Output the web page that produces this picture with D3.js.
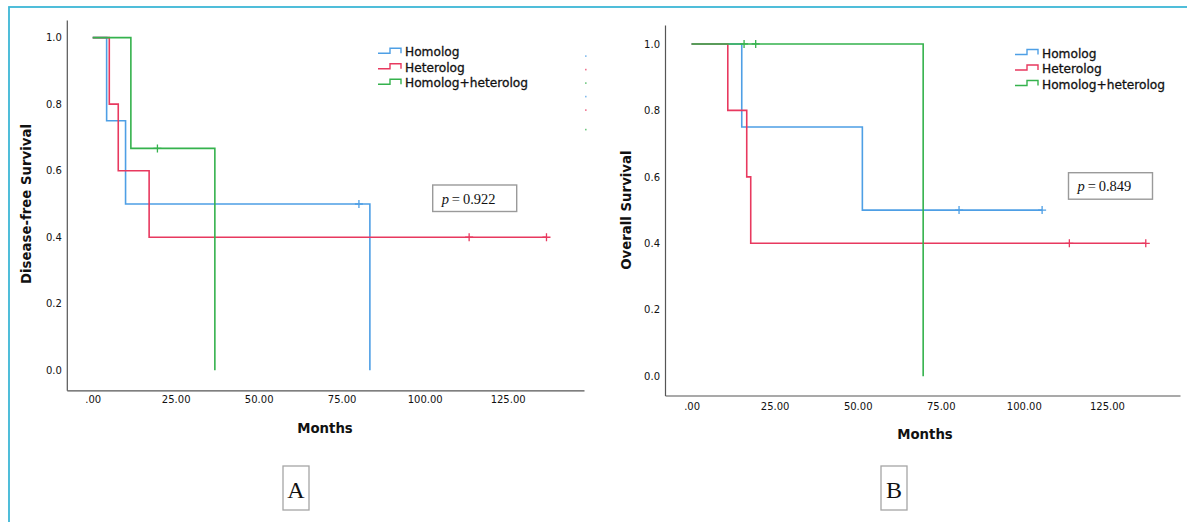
<!DOCTYPE html>
<html>
<head>
<meta charset="utf-8">
<script src="https://cdn.jsdelivr.net/npm/d3@7"></script>
<style>
  body { margin: 0; background: #fff; }
  svg { display: block; font-family: "DejaVu Sans", sans-serif; }
</style>
</head>
<body>
<div id="chart"></div>
<script>
const width = 1187
const height = 522

const monthTicks = [0, 25, 50, 75, 100, 125]
const monthLabels = [".00", "25.00", "50.00", "75.00", "100.00", "125.00"]
const survTicks = [0, 0.2, 0.4, 0.6, 0.8, 1.0]
const groups = ["Homolog", "Heterolog", "Homolog+heterolog"]
const colors = ["#4e9fe5", "#e8395f", "#35b24d"]

// Panel A - disease-free survival (step times, survival after step, censored times)
const dfsHomologTimes = [0, 4.2, 9.9, 83.5]
const dfsHomologSurv = [1, 0.75, 0.5, 0]
const dfsHomologCensored = [80.2]
const dfsHeterologTimes = [0, 5.0, 7.7, 17.0]
const dfsHeterologSurv = [1, 0.8, 0.6, 0.4]
const dfsHeterologCensored = [113.4, 136.7]
const dfsBothTimes = [0, 11.5, 36.8]
const dfsBothSurv = [1, 0.667, 0]
const dfsBothCensored = [19.5]

// Panel B - overall survival
const osHomologTimes = [0, 15.1, 51.4]
const osHomologSurv = [1, 0.75, 0.5]
const osHomologCensored = [80.5, 105.5]
const osHeterologTimes = [0, 10.9, 16.6, 17.8]
const osHeterologSurv = [1, 0.8, 0.6, 0.4]
const osHeterologCensored = [113.7, 136.7]
const osBothTimes = [0, 69.7]
const osBothSurv = [1, 0]
const osBothCensored = [15.8, 19.3]

const svg = d3.select("#chart").append("svg")
    .attr("width", width)
    .attr("height", height)
    .attr("viewBox", [0, 0, width, height])

// cyan frame around the figure
svg.append("rect")
    .attr("x", 9).attr("y", 7)
    .attr("width", 1300).attr("height", 700)
    .attr("fill", "none")
    .attr("stroke", "#3db7d6")
    .attr("stroke-width", 1.8)

function survAt(times, surv, t) {
  let s = surv[0]
  times.forEach((d, i) => { if (d <= t) s = surv[i] })
  return s
}

function panel(cfg) {
  const x = d3.scaleLinear().domain(cfg.xDomain).range(cfg.xRange)
  const y = d3.scaleLinear().domain(cfg.yDomain).range(cfg.yRange)
  const g = svg.append("g")

  const xAxis = g.append("g")
      .attr("transform", `translate(0,${cfg.yRange[0]})`)
      .call(d3.axisBottom(x).tickValues(monthTicks)
        .tickFormat((d, i) => monthLabels[i]).tickSize(0).tickPadding(cfg.xPad))
  const yAxis = g.append("g")
      .attr("transform", `translate(${cfg.xRange[0]},0)`)
      .call(d3.axisLeft(y).tickValues(survTicks)
        .tickFormat(d3.format(".1f")).tickSize(0).tickPadding(5))

  ;[xAxis, yAxis].forEach(a => {
    a.attr("font-family", "DejaVu Sans, sans-serif").attr("font-size", 10)
    a.select(".domain").attr("stroke", "#555").attr("stroke-width", 1.2)
    a.selectAll("text").attr("fill", "#111")
  })

  g.append("text")
      .attr("x", cfg.titleX).attr("y", cfg.titleY)
      .attr("text-anchor", "middle")
      .attr("font-weight", "bold").attr("font-size", 13.3)
      .attr("fill", "#111")
      .text("Months")

  g.append("text")
      .attr("transform", `translate(${cfg.yLabelX},${(y(0) + y(1)) / 2}) rotate(-90)`)
      .attr("text-anchor", "middle")
      .attr("font-weight", "bold").attr("font-size", 13.3)
      .attr("fill", "#111")
      .text(cfg.yLabel)

  const line = d3.line()
      .x(d => x(d[0]))
      .y(d => y(d[1]))
      .curve(d3.curveStepAfter)

  cfg.series.forEach((s, i) => {
    const pts = s.times.map((t, k) => [t, s.surv[k]])
    const last = s.surv[s.surv.length - 1]
    if (last > 0) pts.push([d3.max(s.censored), last])
    g.append("path")
        .datum(pts)
        .attr("fill", "none")
        .attr("stroke", colors[i])
        .attr("stroke-width", 1.6)
        .attr("d", line)
    g.selectAll(null)
      .data(s.censored)
      .join("path")
        .attr("fill", "none")
        .attr("stroke", colors[i])
        .attr("stroke-width", 1.3)
        .attr("d", c => {
          const cx = x(c), cy = y(survAt(s.times, s.surv, c))
          return `M${cx},${cy - 4}V${cy + 4}M${cx - 4},${cy}H${cx + 4}`
        })
  })

  // legend
  const lg = g.append("g").attr("transform", `translate(${cfg.legendX},${cfg.legendY})`)
  groups.forEach((name, i) => {
    const ly = i * 15.5
    lg.append("path")
        .attr("fill", "none")
        .attr("stroke", colors[i])
        .attr("stroke-width", 1.4)
        .attr("d", `M0,${ly - 3}H12V${ly - 8}H23V${ly - 3}`)
    lg.append("text")
        .attr("x", 27).attr("y", ly)
        .attr("font-size", 12.2)
        .attr("fill", "#111")
        .attr("stroke", "#111")
        .attr("stroke-width", 0.3)
        .text(name)
  })
  // faint censor markers of the legend, cut off at the right
  if (cfg.legendDots) {
    g.selectAll(null)
      .data(d3.range(6))
      .join("rect")
        .attr("x", cfg.legendX + 207)
        .attr("y", i => cfg.legendY - 1 + i * 13.5 + (i === 5 ? 6 : 0))
        .attr("width", 1.6).attr("height", 1.6)
        .attr("fill", i => colors[i % 3])
        .attr("opacity", 0.7)
  }

  // p-value box
  const pb = g.append("g").attr("transform", `translate(${cfg.pBox[0]},${cfg.pBox[1]})`)
  pb.append("rect")
      .attr("width", 84).attr("height", 26.5)
      .attr("fill", "#fff").attr("stroke", "#9a9a9a").attr("stroke-width", 1.4)
  const pt = pb.append("text")
      .attr("x", 9).attr("y", 18.5)
      .attr("font-family", "Liberation Serif, serif")
      .attr("font-size", 14.5)
      .attr("fill", "#111")
  pt.append("tspan").attr("font-style", "italic").text("p")
  pt.append("tspan").text("\u2009=\u2009" + cfg.pValue)

  // panel letter
  const lb = g.append("g").attr("transform", `translate(${cfg.letterX},466)`)
  lb.append("rect")
      .attr("x", -13).attr("width", 26).attr("height", 44)
      .attr("fill", "none").attr("stroke", "#a5a5a5").attr("stroke-width", 1.3)
  lb.append("text")
      .attr("y", 32)
      .attr("text-anchor", "middle")
      .attr("font-family", "Liberation Serif, serif")
      .attr("font-size", 24)
      .attr("fill", "#111")
      .text(cfg.letter)
}

panel({
  xDomain: [-7.8, 148], xRange: [66.8, 584],
  yDomain: [-0.06, 1.053], yRange: [390.3, 20],
  xPad: 6, titleX: 325, titleY: 433,
  yLabel: "Disease-free Survival", yLabelX: 31,
  legendX: 378, legendY: 56.3, legendDots: true,
  pBox: [432.7, 185], pValue: "0.922",
  letter: "A", letterX: 296,
  series: [
    {times: dfsHomologTimes, surv: dfsHomologSurv, censored: dfsHomologCensored},
    {times: dfsHeterologTimes, surv: dfsHeterologSurv, censored: dfsHeterologCensored},
    {times: dfsBothTimes, surv: dfsBothSurv, censored: dfsBothCensored}
  ]
})

panel({
  xDomain: [-8, 147], xRange: [665, 1180],
  yDomain: [-0.058, 1.057], yRange: [395.5, 25],
  xPad: 7, titleX: 925, titleY: 438.5,
  yLabel: "Overall Survival", yLabelX: 631,
  legendX: 1015, legendY: 57.5, legendDots: false,
  pBox: [1068.5, 172.7], pValue: "0.849",
  letter: "B", letterX: 894,
  series: [
    {times: osHomologTimes, surv: osHomologSurv, censored: osHomologCensored},
    {times: osHeterologTimes, surv: osHeterologSurv, censored: osHeterologCensored},
    {times: osBothTimes, surv: osBothSurv, censored: osBothCensored}
  ]
})
</script>
</body>
</html>
